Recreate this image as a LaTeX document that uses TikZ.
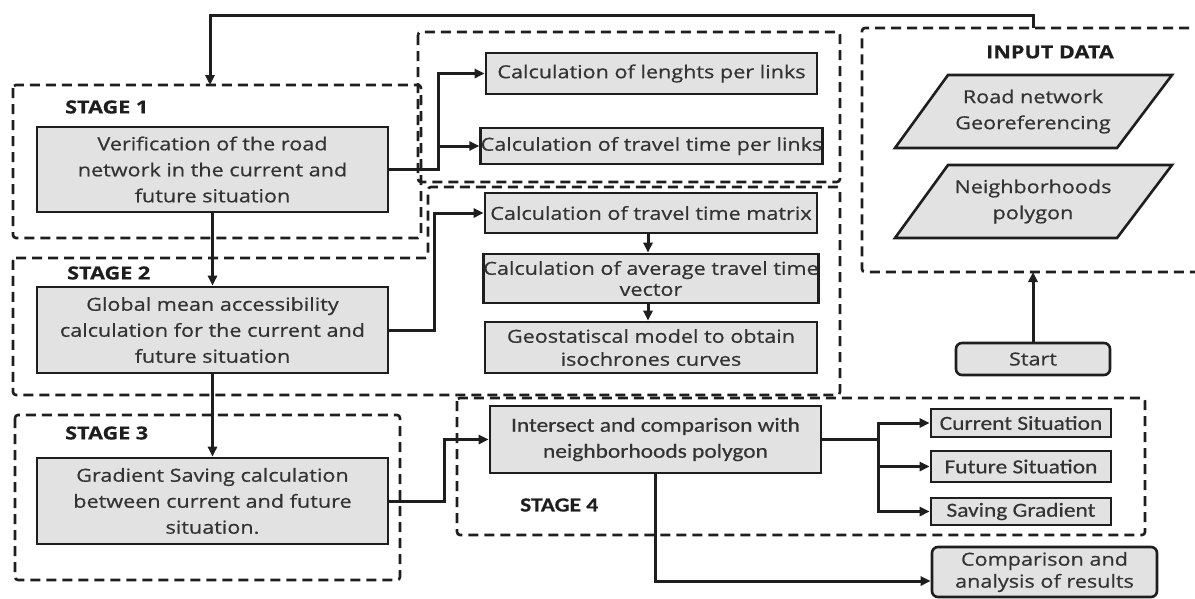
\documentclass[tikz,border=0pt]{standalone}
\usepackage{fontspec}
\setmainfont[FakeStretch=1.2,FakeBold=0.6]{Open Sans}
\newfontfamily\calfont[FakeStretch=1.17,FakeBold=0.5]{Carlito}
\usetikzlibrary{arrows.meta}
\definecolor{boxfill}{HTML}{E2E2E2}
\definecolor{ink}{HTML}{1E1E1E}
\definecolor{txt}{HTML}{333333}
\tikzset{
 box/.style={draw=ink, line width=2.6pt, fill=boxfill, text=txt, inner sep=0pt, align=center, font=\fontsize{18}{26}\selectfont},
 calbox/.style={box, font=\calfont\fontsize{20}{26}\selectfont},
 roundbox/.style={box, rounded corners=6pt},
 stagebox/.style={draw=ink, line width=2.6pt, dash pattern=on 10pt off 6pt, rounded corners=3pt},
 conn/.style={draw=ink, line width=3pt},
 arr/.style={conn, -{Triangle[length=10pt,width=9pt]}},
 lbl/.style={font=\bfseries\fontsize{18}{22}\selectfont, text=ink, inner sep=0pt},
}
\begin{document}
\begin{tikzpicture}[x=1pt,y=-1pt]
\useasboundingbox (0,0) rectangle (1195,598);
% dashed group boxes
\draw[stagebox] (418,32) rectangle (840,182);
\draw[stagebox] (13,85) rectangle (421,238);
\draw[stagebox] (13,258) -- (428,258) -- (428,187) -- (840,187) -- (840,395) -- (13,395) -- cycle;
\draw[stagebox] (15,415) rectangle (400,580);
\draw[stagebox] (457,398) rectangle (1145,535);
\draw[stagebox] (1205,28) -- (862,28) -- (862,272) -- (1205,272);
% labels
\node[lbl, anchor=west] (s1) at (65,107) {STAGE 1};
\node[lbl, anchor=west] (s2) at (67,273) {STAGE 2};
\node[lbl, anchor=west] (s3) at (65,433) {STAGE 3};
\node[lbl, anchor=west, font=\calfont\bfseries\fontsize{20}{22}\selectfont] (s4) at (520,505) {STAGE 4};
\node[lbl] (inp) at (1050,52) {INPUT DATA};
% input parallelograms
\draw[draw=ink, line width=2.6pt, fill=boxfill] (948,75) -- (1172,75) -- (1117,148) -- (895,148) -- cycle;
\node[text=txt, align=center, font=\fontsize{18}{26}\selectfont] (road) at (1033,111.5) {Road network\\Georeferencing};
\draw[draw=ink, line width=2.6pt, fill=boxfill] (948,165) -- (1172,165) -- (1117,238) -- (895,238) -- cycle;
\node[text=txt, align=center, font=\fontsize{18}{26}\selectfont] (neigh) at (1033,201.5) {Neighborhoods\\polygon};
\coordinate (inTop) at (1033,28);
\coordinate (inBot) at (1033,272);
\coordinate (loop) at (1033,15);
\coordinate (s1Top) at (210,85);
% process boxes
\node[box, minimum width=351pt, minimum height=85pt] (verif) at (212.5,169.5) {Verification of the road\\network in the current and\\future situation};
\node[box, minimum width=351pt, minimum height=86pt] (global) at (212.5,330) {Global mean accessibility\\calculation for the current and\\future situation};
\node[box, minimum width=351pt, minimum height=86pt] (grad) at (212.5,501) {Gradient Saving calculation\\between current and future\\situation.};
\node[box, minimum width=331pt, minimum height=41pt] (len) at (651.5,73.5) {Calculation of lenghts per links};
\node[box, minimum width=331pt, minimum height=36pt] (tt) at (651.5,146) {Calculation of travel time per links};
\node[box, minimum width=332pt, minimum height=40pt] (mat) at (651,213) {Calculation of travel time matrix};
\node[box, minimum width=332pt, minimum height=49pt, font=\fontsize{18}{21}\selectfont] (avg) at (651,278.5) {Calculation of average travel time\\vector};
\node[box, minimum width=332pt, minimum height=51pt, font=\fontsize{18}{23}\selectfont] (geo) at (651,347.5) {Geostatiscal model to obtain\\isochrones curves};
\node[calbox, minimum width=331pt, minimum height=67pt] (inter) at (655.5,439.5) {Intersect and comparison with\\neighborhoods polygon};
\node[calbox, minimum width=180pt, minimum height=28pt] (cur) at (1021,423) {Current Situation};
\node[calbox, minimum width=180pt, minimum height=31pt] (fut) at (1021,466.5) {Future Situation};
\node[calbox, minimum width=180pt, minimum height=27pt] (sav) at (1021,511.5) {Saving Gradient};
\node[roundbox, minimum width=225pt, minimum height=50pt, font=\fontsize{18}{22}\selectfont] (comp) at (1044.5,572) {Comparison and\\analysis of results};
\node[roundbox, minimum width=154pt, minimum height=32pt] (start) at (1033,359) {Start};
% connectors
\draw[arr] (inTop) -- (loop) -| (s1Top);
\draw[arr] (start) -- (inBot);
\draw[arr] (verif.east) -- ++(49,0) |- (len.west);
\draw[arr] (verif.east) -- ++(49,0) |- (tt.west);
\draw[arr] (verif) -- (global);
\draw[arr] (global) -- (grad);
\draw[arr] (global.east) -- ++(45,0) |- (mat.west);
\draw[arr] ([xshift=-3pt]mat.south) -- ([xshift=-3pt]avg.north);
\draw[arr] ([xshift=-3pt]avg.south) -- ([xshift=-3pt]geo.north);
\draw[arr] (grad.east) -- ++(55,0) |- (inter.west);
\draw[arr] (inter.east) -- ++(56,0) |- (cur.west);
\draw[arr] (inter.east) -- ++(56,0) |- (fut.west);
\draw[arr] (inter.east) -- ++(56,0) |- (sav.west);
\draw[arr] (inter.south) |- ([yshift=-9pt]comp.west);
\end{tikzpicture}
\end{document}
